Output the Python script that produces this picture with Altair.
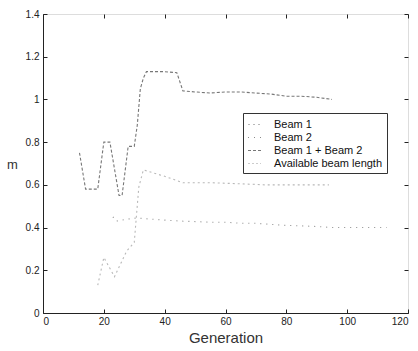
import altair as alt
import pandas as pd

series_names = ["Beam 1", "Beam 2", "Beam 1 + Beam 2", "Available beam length"]

beam1_gen = [18, 20, 23.5, 27.5, 30, 31.5, 33, 40, 46, 55, 65, 73, 85, 94]
beam1_val = [0.13, 0.26, 0.17, 0.29, 0.33, 0.59, 0.67, 0.64, 0.61, 0.61, 0.605, 0.60, 0.60, 0.60]

beam2_gen = [23, 24, 28, 31, 35, 40, 46, 50, 55, 60, 65, 70, 75, 80, 85, 90, 95, 100, 105, 110, 113]
beam2_val = [0.45, 0.43, 0.44, 0.445, 0.44, 0.435, 0.43, 0.428, 0.425, 0.425, 0.42, 0.42, 0.415,
             0.41, 0.408, 0.405, 0.40, 0.40, 0.40, 0.40, 0.40]

sum_gen = [12, 14, 18, 20, 22, 25, 26, 28, 30, 31, 32, 33, 34, 40, 44, 46, 50, 55, 60, 65, 70,
           75, 80, 85, 90, 95]
sum_val = [0.75, 0.58, 0.58, 0.80, 0.80, 0.55, 0.55, 0.78, 0.78, 0.88, 1.05, 1.10, 1.13, 1.13,
           1.125, 1.04, 1.035, 1.03, 1.035, 1.035, 1.03, 1.025, 1.015, 1.015, 1.01, 1.0]

x_ticks = [0, 20, 40, 60, 80, 100, 120]
y_ticks = [0, 0.2, 0.4, 0.6, 0.8, 1.0, 1.2, 1.4]

rows = []
for g, v in zip(beam1_gen, beam1_val):
    rows.append({"Generation": g, "m": v, "Series": "Beam 1"})
for g, v in zip(beam2_gen, beam2_val):
    rows.append({"Generation": g, "m": v, "Series": "Beam 2"})
for g, v in zip(sum_gen, sum_val):
    rows.append({"Generation": g, "m": v, "Series": "Beam 1 + Beam 2"})
df = pd.DataFrame(rows)

W, H = 365, 299
FONT = "Liberation Sans"
xs = alt.Scale(domain=[0, 120], nice=False)
ys = alt.Scale(domain=[0, 1.4], nice=False)

legend = alt.Legend(title=None, orient="none", legendX=200, legendY=99,
                    strokeColor="#333", fillColor="white", padding=4,
                    labelFont=FONT, labelFontSize=11, labelColor="#111",
                    symbolType="stroke", symbolSize=169, symbolStrokeWidth=1.2,
                    rowPadding=0, labelOffset=12)


def tick_axis(orient, vals):
    return alt.Axis(orient=orient, values=vals, offset=-4, tickSize=4, tickColor="#222",
                    labels=False, domain=False, title=None, grid=False)


base = alt.Chart(df)

ticks_bl = base.mark_line(opacity=0).encode(
    x=alt.X("Generation:Q", scale=xs, axis=tick_axis("bottom", x_ticks)),
    y=alt.Y("m:Q", scale=ys, axis=tick_axis("left", y_ticks)),
    detail="Series:N",
)
ticks_tr = base.mark_line(opacity=0).encode(
    x=alt.X("Generation:Q", scale=xs, axis=tick_axis("top", x_ticks)),
    y=alt.Y("m:Q", scale=ys, axis=tick_axis("right", y_ticks)),
    detail="Series:N",
)

lines = base.mark_line(strokeWidth=1.1).encode(
    x=alt.X("Generation:Q", scale=xs,
            axis=alt.Axis(values=x_ticks, title="Generation",
                          titleFont=FONT, titleFontSize=15, titleFontWeight="normal",
                          titleColor="#333", titlePadding=4,
                          labelFont=FONT, labelFontSize=10, labelColor="#222",
                          labelPadding=3, domainColor="#222", tickSize=0, grid=False)),
    y=alt.Y("m:Q", scale=ys,
            axis=alt.Axis(values=y_ticks, format=".1~f",
                          title="m", titleAngle=0, titleFont=FONT, titleFontSize=13,
                          titleFontWeight="normal", titleColor="#333",
                          titleX=-31, titleY=150, titleAlign="center", titleBaseline="middle",
                          labelFont=FONT, labelFontSize=10, labelColor="#222",
                          labelPadding=4, domainColor="#222", tickSize=0, grid=False)),
    color=alt.Color("Series:N",
                    scale=alt.Scale(domain=series_names,
                                    range=["#b8b8b8", "#8a8a8a", "#777777", "#cccccc"]),
                    legend=legend),
    strokeDash=alt.StrokeDash("Series:N",
                              scale=alt.Scale(domain=series_names,
                                              range=[[2, 3], [1, 5], [3, 2], [2, 2]]),
                              legend=legend),
    detail="Series:N",
)

chart = alt.layer(ticks_bl, ticks_tr, lines).resolve_axis(
    x="independent", y="independent"
).properties(
    width=W, height=H,
    autosize=alt.AutoSizeParams(type="none"),
    padding={"left": 43, "top": 14, "right": 10, "bottom": 38},
).configure_view(
    stroke="#222", strokeWidth=1
).configure(background="white")

chart.save("out.html", embed_options={"renderer": "svg", "actions": False})
